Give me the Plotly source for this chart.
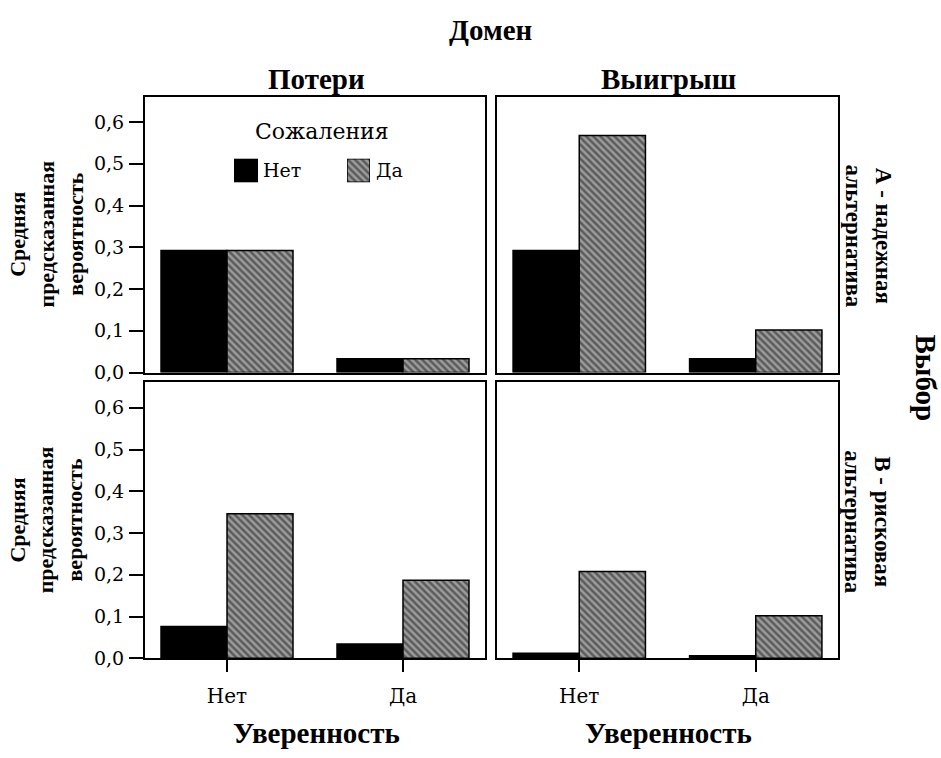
import plotly.graph_objects as go

# Confidence categories on the x axis (Уверенность)
confidence = ["Нет", "Да"]

# Mean predicted probability, by domain (Потери / Выигрыш) and choice (A / B)
# "Нет" = no regret, "Да" = regret
loss_safe_no = [0.292, 0.033]
loss_safe_yes = [0.292, 0.033]
gain_safe_no = [0.292, 0.033]
gain_safe_yes = [0.568, 0.102]
loss_risky_no = [0.076, 0.034]
loss_risky_yes = [0.346, 0.187]
gain_risky_no = [0.012, 0.006]
gain_risky_yes = [0.208, 0.102]

y_ticks = [0.0, 0.1, 0.2, 0.3, 0.4, 0.5, 0.6]

W, H = 941, 758
BOLD_FONT = "Liberation Serif"
REG_FONT = "DejaVu Serif"


def px_x(v):
    return v / W


def px_y(v):
    return 1 - v / H


solid = dict(color="black", line=dict(color="black", width=1.5))
hatched = dict(
    color="#9c9c9c",
    line=dict(color="black", width=1.5),
    pattern=dict(shape="\\", fgcolor="#1a1a1a", bgcolor="#9c9c9c", size=5, solidity=0.5),
)

panels = [
    ("x", "y", loss_safe_no, loss_safe_yes),
    ("x2", "y2", gain_safe_no, gain_safe_yes),
    ("x3", "y3", loss_risky_no, loss_risky_yes),
    ("x4", "y4", gain_risky_no, gain_risky_yes),
]

fig = go.Figure()
for xa, ya, no_vals, yes_vals in panels:
    fig.add_trace(go.Bar(x=confidence, y=no_vals, xaxis=xa, yaxis=ya,
                         marker=solid, name="Нет", showlegend=False))
    fig.add_trace(go.Bar(x=confidence, y=yes_vals, xaxis=xa, yaxis=ya,
                         marker=hatched, name="Да", showlegend=False))

# legend keys, each one drawn in its own small hidden axis
fig.add_trace(go.Bar(x=[0], y=[1], width=[1], xaxis="x5", yaxis="y5",
                     marker=solid, showlegend=False, hoverinfo="skip"))
fig.add_trace(go.Bar(x=[0], y=[1], width=[1], xaxis="x6", yaxis="y6",
                     marker=hatched, showlegend=False, hoverinfo="skip"))

col_dom = [[px_x(145), px_x(485)], [px_x(497), px_x(838)]]
row_dom = [[px_y(378), px_y(98)], [px_y(668), px_y(388)]]


def xaxis(dom, anchor, show):
    return dict(
        domain=dom, anchor=anchor, type="category", range=[-0.466, 1.466],
        showline=True, linecolor="black", linewidth=2, mirror=True,
        showgrid=False, zeroline=False,
        ticks="outside" if show else "", ticklen=12, tickwidth=1.5, tickcolor="black",
        showticklabels=show, tickfont=dict(family=REG_FONT, size=20, color="black"),
        ticklabelstandoff=7,
    )


def yaxis(dom, anchor, show):
    return dict(
        domain=dom, anchor=anchor, range=[0, 0.661],
        tickvals=y_ticks, tickformat=".1f",
        showline=True, linecolor="black", linewidth=2, mirror=True,
        showgrid=False, zeroline=False,
        ticks="outside" if show else "", ticklen=14, tickwidth=1.5, tickcolor="black",
        showticklabels=show, tickfont=dict(family=REG_FONT, size=19, color="black"),
        ticklabelstandoff=1,
    )


hidden = dict(visible=False, fixedrange=True)

fig.update_layout(
    width=W, height=H,
    margin=dict(l=0, r=0, t=0, b=0),
    paper_bgcolor="white", plot_bgcolor="white",
    separators=", ",
    barmode="group", bargap=0.25, bargroupgap=0,
    font=dict(family=REG_FONT, color="black"),
    xaxis=xaxis(col_dom[0], "y", False),
    yaxis=yaxis(row_dom[0], "x", True),
    xaxis2=xaxis(col_dom[1], "y2", False),
    yaxis2=yaxis(row_dom[0], "x2", False),
    xaxis3=xaxis(col_dom[0], "y3", True),
    yaxis3=yaxis(row_dom[1], "x3", True),
    xaxis4=xaxis(col_dom[1], "y4", True),
    yaxis4=yaxis(row_dom[1], "x4", False),
    xaxis5=dict(domain=[px_x(234), px_x(258)], anchor="y5", range=[-0.5, 0.5], **hidden),
    yaxis5=dict(domain=[px_y(185), px_y(161)], anchor="x5", range=[0, 1], **hidden),
    xaxis6=dict(domain=[px_x(347), px_x(370)], anchor="y6", range=[-0.5, 0.5], **hidden),
    yaxis6=dict(domain=[px_y(185), px_y(161)], anchor="x6", range=[0, 1], **hidden),
)


def label(text, x, y, size, angle=0, xanchor="center", yanchor="middle", family=BOLD_FONT):
    fig.add_annotation(
        text=text, x=px_x(x), y=px_y(y), xref="paper", yref="paper",
        xanchor=xanchor, yanchor=yanchor, showarrow=False, textangle=angle,
        font=dict(family=family, size=size, color="black"),
    )


# facet headers
label("<b>Домен</b>", 490, 30, 29)
label("<b>Потери</b>", 316, 80, 29)
label("<b>Выигрыш</b>", 668, 80, 29)

# legend
label("Сожаления", 322, 133, 22, family=REG_FONT)
label("Нет", 261, 173, 19, xanchor="left", family=REG_FONT)
label("Да", 374, 173, 19, xanchor="left", family=REG_FONT)

# axis titles
label("<b>Уверенность</b>", 316, 744, 29)
label("<b>Уверенность</b>", 668, 744, 29)
y_title = "<b>Средняя<br>предсказанная<br>вероятность</b>"
label(y_title, 46, 238, 22, angle=-90)
label(y_title, 46, 528, 22, angle=-90)

# row headers
label("<b>А - надежная<br>альтернатива</b>", 868, 239, 23, angle=90)
label("<b>В - рисковая<br>альтернатива</b>", 868, 529, 23, angle=90)
label("<b>Выбор</b>", 926, 383, 29, angle=90)

fig.write_html("out.html")
